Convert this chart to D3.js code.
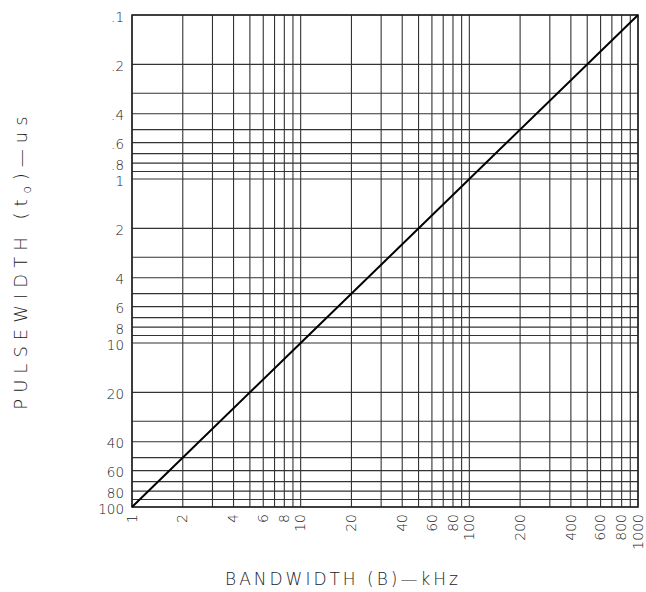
<!DOCTYPE html>
<html>
<head>
<meta charset="utf-8">
<script src="https://cdn.jsdelivr.net/npm/d3@7"></script>
<style>
  html, body { margin: 0; padding: 0; background: #fff; }
  svg { display: block; }
  text { font-family: "DejaVu Sans", sans-serif; fill: #222; font-weight: 200; }
</style>
</head>
<body>
<div id="chart"></div>
<script>
// ---- data ----
const bandwidthKHz = [1, 10, 100, 1000];
const pulsewidthUs = [100, 10, 1, 0.1];
const xTickValues = [1, 2, 4, 6, 8, 10, 20, 40, 60, 80, 100, 200, 400, 600, 800, 1000];
const xTickLabels = ["1", "2", "4", "6", "8", "10", "20", "40", "60", "80", "100", "200", "400", "600", "800", "1000"];
const yTickValues = [0.1, 0.2, 0.4, 0.6, 0.8, 1, 2, 4, 6, 8, 10, 20, 40, 60, 80, 100];
const yTickLabels = [".1", ".2", ".4", ".6", ".8", "1", "2", "4", "6", "8", "10", "20", "40", "60", "80", "100"];

const W = 646, H = 592;
const m = { left: 132, right: 8, top: 15, bottom: 85 };
const iw = W - m.left - m.right, ih = H - m.top - m.bottom;

const svg = d3.select("#chart").append("svg").attr("width", W).attr("height", H);
const g = svg.append("g").attr("transform", `translate(${m.left},${m.top})`);

const x = d3.scaleLog().domain([1, 1000]).range([0, iw]);
const y = d3.scaleLog().domain([0.1, 100]).range([0, ih]);

// grid
g.append("g").selectAll("line").data(x.ticks()).join("line")
  .attr("x1", d => x(d)).attr("x2", d => x(d))
  .attr("y1", 0).attr("y2", ih)
  .attr("stroke", "#333").attr("stroke-width", 1.1);
g.append("g").selectAll("line").data(y.ticks()).join("line")
  .attr("y1", d => y(d)).attr("y2", d => y(d))
  .attr("x1", 0).attr("x2", iw)
  .attr("stroke", "#333").attr("stroke-width", 1.1);

g.append("rect").attr("width", iw).attr("height", ih)
  .attr("fill", "none").attr("stroke", "#222").attr("stroke-width", 1.5);

// axes tick labels
const yAxis = d3.axisLeft(y).tickValues(yTickValues)
  .tickFormat((d, i) => yTickLabels[i]).tickSize(0).tickPadding(8);
g.append("g").call(yAxis)
  .call(s => s.select(".domain").remove())
  .selectAll("text").attr("font-size", 13.5).attr("dy", "0.45em")
  .style("font-family", "DejaVu Sans, sans-serif").style("font-weight", 200).attr("fill", "#222");

const xAxis = d3.axisBottom(x).tickValues(xTickValues)
  .tickFormat((d, i) => xTickLabels[i]).tickSize(0);
g.append("g").attr("transform", `translate(0,${ih})`).call(xAxis)
  .call(s => s.select(".domain").remove())
  .selectAll("text")
  .attr("font-size", 14)
  .style("font-family", "DejaVu Sans, sans-serif").style("font-weight", 200).attr("fill", "#222")
  .attr("transform", "rotate(-90)")
  .attr("x", -7).attr("y", 0).attr("dy", "0.3em")
  .attr("text-anchor", "end");

// line
g.append("path").datum(bandwidthKHz.map((b, i) => [b, pulsewidthUs[i]]))
  .attr("d", d3.line().x(d => x(d[0])).y(d => y(d[1])))
  .attr("fill", "none").attr("stroke", "#000").attr("stroke-width", 2);

// axis titles
svg.append("text").attr("x", 343).attr("y", 585)
  .attr("text-anchor", "middle").attr("font-size", 17)
  .attr("letter-spacing", 3).text("BANDWIDTH (B)\u2014kHz");

const yt = svg.append("text")
  .attr("transform", `translate(27,260) rotate(-90)`)
  .attr("text-anchor", "middle").attr("font-size", 18).attr("letter-spacing", 6);
yt.append("tspan").text("PULSEWIDTH (t");
yt.append("tspan").attr("font-size", 12).attr("dy", 4).text("o");
yt.append("tspan").attr("dy", -4).text(")\u2014us");
</script>
</body>
</html>
